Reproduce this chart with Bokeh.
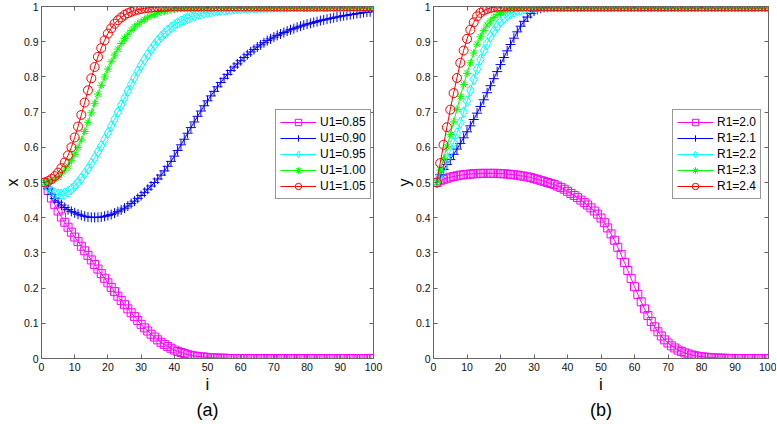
from bokeh.plotting import figure
from bokeh.models import Range1d, FixedTicker, LinearAxis, Legend, LegendItem, Title
from bokeh.layouts import row
from bokeh.embed import file_html
from bokeh.resources import INLINE

# ---------------- data ----------------
I = list(range(1, 101))
X_TICKS = [0, 10, 20, 30, 40, 50, 60, 70, 80, 90, 100]
Y_TICKS = [0, 0.1, 0.2, 0.3, 0.4, 0.5, 0.6, 0.7, 0.8, 0.9, 1]
Y_TICK_LABELS = ["0", "0.1", "0.2", "0.3", "0.4", "0.5", "0.6", "0.7", "0.8", "0.9", "1"]

LABELS_A = ["U1=0.85", "U1=0.90", "U1=0.95", "U1=1.00", "U1=1.05"]
LABELS_B = ["R1=2.0", "R1=2.1", "R1=2.2", "R1=2.3", "R1=2.4"]

A_U085 = [
    0.500, 0.477, 0.456, 0.437, 0.419, 0.402, 0.387, 0.373, 0.359, 0.345,
    0.332, 0.319, 0.306, 0.293, 0.280, 0.267, 0.254, 0.241, 0.228, 0.215,
    0.202, 0.190, 0.177, 0.165, 0.153, 0.141, 0.130, 0.119, 0.108, 0.097,
    0.087, 0.078, 0.069, 0.061, 0.053, 0.046, 0.040, 0.034, 0.029, 0.024,
    0.020, 0.017, 0.014, 0.011, 0.009, 0.007, 0.006, 0.005, 0.004, 0.003,
    0.002, 0.002, 0.001, 0.001, 0.001, 0.000, 0.000, 0.000, 0.000, 0.000,
    0.000, 0.000, 0.000, 0.000, 0.000, 0.000, 0.000, 0.000, 0.000, 0.000,
    0.000, 0.000, 0.000, 0.000, 0.000, 0.000, 0.000, 0.000, 0.000, 0.000,
    0.000, 0.000, 0.000, 0.000, 0.000, 0.000, 0.000, 0.000, 0.000, 0.000,
    0.000, 0.000, 0.000, 0.000, 0.000, 0.000, 0.000, 0.000, 0.000, 0.000,
]
A_U090 = [
    0.500, 0.482, 0.466, 0.454, 0.444, 0.436, 0.429, 0.423, 0.418, 0.414,
    0.410, 0.407, 0.404, 0.402, 0.401, 0.401, 0.401, 0.402, 0.404, 0.406,
    0.409, 0.413, 0.417, 0.422, 0.427, 0.433, 0.440, 0.447, 0.455, 0.463,
    0.472, 0.481, 0.490, 0.500, 0.510, 0.521, 0.533, 0.546, 0.560, 0.575,
    0.591, 0.607, 0.623, 0.640, 0.656, 0.672, 0.688, 0.703, 0.718, 0.732,
    0.746, 0.759, 0.772, 0.784, 0.796, 0.807, 0.818, 0.828, 0.837, 0.846,
    0.855, 0.863, 0.871, 0.878, 0.885, 0.891, 0.897, 0.903, 0.908, 0.913,
    0.918, 0.922, 0.926, 0.930, 0.934, 0.937, 0.941, 0.944, 0.947, 0.950,
    0.952, 0.955, 0.957, 0.960, 0.962, 0.964, 0.966, 0.968, 0.970, 0.972,
    0.974, 0.975, 0.977, 0.978, 0.980, 0.981, 0.983, 0.984, 0.985, 0.987,
]
A_U095 = [
    0.500, 0.485, 0.475, 0.469, 0.466, 0.466, 0.469, 0.474, 0.481, 0.490,
    0.500, 0.512, 0.525, 0.539, 0.554, 0.570, 0.587, 0.604, 0.622, 0.641,
    0.660, 0.680, 0.700, 0.720, 0.740, 0.760, 0.779, 0.798, 0.816, 0.833,
    0.849, 0.864, 0.878, 0.891, 0.903, 0.914, 0.923, 0.932, 0.940, 0.947,
    0.953, 0.958, 0.963, 0.967, 0.971, 0.974, 0.977, 0.980, 0.982, 0.984,
    0.986, 0.988, 0.989, 0.990, 0.991, 0.992, 0.993, 0.994, 0.995, 0.995,
    0.996, 0.996, 0.997, 0.997, 0.997, 0.998, 0.998, 0.998, 0.999, 0.999,
    0.999, 0.999, 0.999, 0.999, 1.000, 1.000, 1.000, 1.000, 1.000, 1.000,
    1.000, 1.000, 1.000, 1.000, 1.000, 1.000, 1.000, 1.000, 1.000, 1.000,
    1.000, 1.000, 1.000, 1.000, 1.000, 1.000, 1.000, 1.000, 1.000, 1.000,
]
A_U100 = [
    0.500, 0.501, 0.504, 0.509, 0.515, 0.525, 0.535, 0.547, 0.562, 0.580,
    0.600, 0.621, 0.645, 0.671, 0.698, 0.725, 0.751, 0.776, 0.800, 0.822,
    0.843, 0.862, 0.879, 0.895, 0.909, 0.921, 0.932, 0.942, 0.950, 0.957,
    0.963, 0.969, 0.974, 0.978, 0.982, 0.985, 0.987, 0.989, 0.991, 0.993,
    0.994, 0.995, 0.996, 0.997, 0.997, 0.998, 0.998, 0.999, 0.999, 0.999,
    1.000, 1.000, 1.000, 1.000, 1.000, 1.000, 1.000, 1.000, 1.000, 1.000,
    1.000, 1.000, 1.000, 1.000, 1.000, 1.000, 1.000, 1.000, 1.000, 1.000,
    1.000, 1.000, 1.000, 1.000, 1.000, 1.000, 1.000, 1.000, 1.000, 1.000,
    1.000, 1.000, 1.000, 1.000, 1.000, 1.000, 1.000, 1.000, 1.000, 1.000,
    1.000, 1.000, 1.000, 1.000, 1.000, 1.000, 1.000, 1.000, 1.000, 1.000,
]
A_U105 = [
    0.500, 0.504, 0.510, 0.518, 0.528, 0.541, 0.557, 0.577, 0.600, 0.628,
    0.659, 0.692, 0.727, 0.762, 0.796, 0.828, 0.857, 0.882, 0.904, 0.923,
    0.938, 0.951, 0.961, 0.969, 0.976, 0.981, 0.985, 0.988, 0.991, 0.993,
    0.995, 0.996, 0.997, 0.998, 0.998, 0.999, 0.999, 1.000, 1.000, 1.000,
    1.000, 1.000, 1.000, 1.000, 1.000, 1.000, 1.000, 1.000, 1.000, 1.000,
    1.000, 1.000, 1.000, 1.000, 1.000, 1.000, 1.000, 1.000, 1.000, 1.000,
    1.000, 1.000, 1.000, 1.000, 1.000, 1.000, 1.000, 1.000, 1.000, 1.000,
    1.000, 1.000, 1.000, 1.000, 1.000, 1.000, 1.000, 1.000, 1.000, 1.000,
    1.000, 1.000, 1.000, 1.000, 1.000, 1.000, 1.000, 1.000, 1.000, 1.000,
    1.000, 1.000, 1.000, 1.000, 1.000, 1.000, 1.000, 1.000, 1.000, 1.000,
]

B_R20 = [
    0.500, 0.505, 0.509, 0.512, 0.515, 0.517, 0.519, 0.521, 0.522, 0.523,
    0.524, 0.525, 0.525, 0.526, 0.526, 0.526, 0.526, 0.526, 0.526, 0.525,
    0.525, 0.524, 0.523, 0.522, 0.521, 0.519, 0.518, 0.516, 0.514, 0.511,
    0.509, 0.506, 0.503, 0.500, 0.497, 0.494, 0.490, 0.486, 0.481, 0.475,
    0.469, 0.463, 0.457, 0.450, 0.443, 0.436, 0.428, 0.419, 0.410, 0.399,
    0.386, 0.371, 0.354, 0.336, 0.316, 0.295, 0.273, 0.250, 0.227, 0.204,
    0.182, 0.161, 0.141, 0.122, 0.105, 0.090, 0.076, 0.064, 0.053, 0.044,
    0.036, 0.030, 0.024, 0.020, 0.016, 0.013, 0.010, 0.008, 0.006, 0.005,
    0.004, 0.003, 0.002, 0.002, 0.001, 0.001, 0.001, 0.000, 0.000, 0.000,
    0.000, 0.000, 0.000, 0.000, 0.000, 0.000, 0.000, 0.000, 0.000, 0.000,
]
B_R21 = [
    0.500, 0.522, 0.537, 0.551, 0.565, 0.580, 0.595, 0.611, 0.627, 0.644,
    0.661, 0.679, 0.697, 0.716, 0.735, 0.755, 0.775, 0.795, 0.815, 0.835,
    0.855, 0.874, 0.892, 0.910, 0.928, 0.944, 0.958, 0.970, 0.980, 0.987,
    0.992, 0.995, 0.997, 0.998, 0.999, 1.000, 1.000, 1.000, 1.000, 1.000,
    1.000, 1.000, 1.000, 1.000, 1.000, 1.000, 1.000, 1.000, 1.000, 1.000,
    1.000, 1.000, 1.000, 1.000, 1.000, 1.000, 1.000, 1.000, 1.000, 1.000,
    1.000, 1.000, 1.000, 1.000, 1.000, 1.000, 1.000, 1.000, 1.000, 1.000,
    1.000, 1.000, 1.000, 1.000, 1.000, 1.000, 1.000, 1.000, 1.000, 1.000,
    1.000, 1.000, 1.000, 1.000, 1.000, 1.000, 1.000, 1.000, 1.000, 1.000,
    1.000, 1.000, 1.000, 1.000, 1.000, 1.000, 1.000, 1.000, 1.000, 1.000,
]
B_R22 = [
    0.500, 0.523, 0.545, 0.567, 0.589, 0.613, 0.640, 0.670, 0.700, 0.731,
    0.762, 0.793, 0.822, 0.849, 0.874, 0.895, 0.914, 0.930, 0.944, 0.956,
    0.966, 0.974, 0.980, 0.985, 0.989, 0.992, 0.994, 0.996, 0.997, 0.998,
    0.999, 1.000, 1.000, 1.000, 1.000, 1.000, 1.000, 1.000, 1.000, 1.000,
    1.000, 1.000, 1.000, 1.000, 1.000, 1.000, 1.000, 1.000, 1.000, 1.000,
    1.000, 1.000, 1.000, 1.000, 1.000, 1.000, 1.000, 1.000, 1.000, 1.000,
    1.000, 1.000, 1.000, 1.000, 1.000, 1.000, 1.000, 1.000, 1.000, 1.000,
    1.000, 1.000, 1.000, 1.000, 1.000, 1.000, 1.000, 1.000, 1.000, 1.000,
    1.000, 1.000, 1.000, 1.000, 1.000, 1.000, 1.000, 1.000, 1.000, 1.000,
    1.000, 1.000, 1.000, 1.000, 1.000, 1.000, 1.000, 1.000, 1.000, 1.000,
]
B_R23 = [
    0.500, 0.535, 0.568, 0.601, 0.636, 0.672, 0.708, 0.744, 0.778, 0.810,
    0.840, 0.868, 0.893, 0.914, 0.932, 0.947, 0.959, 0.969, 0.977, 0.983,
    0.988, 0.991, 0.994, 0.996, 0.997, 0.998, 0.999, 1.000, 1.000, 1.000,
    1.000, 1.000, 1.000, 1.000, 1.000, 1.000, 1.000, 1.000, 1.000, 1.000,
    1.000, 1.000, 1.000, 1.000, 1.000, 1.000, 1.000, 1.000, 1.000, 1.000,
    1.000, 1.000, 1.000, 1.000, 1.000, 1.000, 1.000, 1.000, 1.000, 1.000,
    1.000, 1.000, 1.000, 1.000, 1.000, 1.000, 1.000, 1.000, 1.000, 1.000,
    1.000, 1.000, 1.000, 1.000, 1.000, 1.000, 1.000, 1.000, 1.000, 1.000,
    1.000, 1.000, 1.000, 1.000, 1.000, 1.000, 1.000, 1.000, 1.000, 1.000,
    1.000, 1.000, 1.000, 1.000, 1.000, 1.000, 1.000, 1.000, 1.000, 1.000,
]
B_R24 = [
    0.500, 0.555, 0.607, 0.657, 0.707, 0.754, 0.797, 0.840, 0.875, 0.908,
    0.934, 0.955, 0.972, 0.982, 0.989, 0.993, 0.996, 0.998, 0.999, 1.000,
    1.000, 1.000, 1.000, 1.000, 1.000, 1.000, 1.000, 1.000, 1.000, 1.000,
    1.000, 1.000, 1.000, 1.000, 1.000, 1.000, 1.000, 1.000, 1.000, 1.000,
    1.000, 1.000, 1.000, 1.000, 1.000, 1.000, 1.000, 1.000, 1.000, 1.000,
    1.000, 1.000, 1.000, 1.000, 1.000, 1.000, 1.000, 1.000, 1.000, 1.000,
    1.000, 1.000, 1.000, 1.000, 1.000, 1.000, 1.000, 1.000, 1.000, 1.000,
    1.000, 1.000, 1.000, 1.000, 1.000, 1.000, 1.000, 1.000, 1.000, 1.000,
    1.000, 1.000, 1.000, 1.000, 1.000, 1.000, 1.000, 1.000, 1.000, 1.000,
    1.000, 1.000, 1.000, 1.000, 1.000, 1.000, 1.000, 1.000, 1.000, 1.000,
]

SERIES_A = [A_U085, A_U090, A_U095, A_U100, A_U105]
SERIES_B = [B_R20, B_R21, B_R22, B_R23, B_R24]

# ---------------- style ----------------
COLORS = ["#FF00FF", "#0000FF", "#00FFFF", "#00FF00", "#FF0000"]
MARKERS = ["square", "cross", "diamond", "asterisk", "circle"]
SIZES = [8, 10, 11, 8, 9]
FONT = "Liberation Sans"
AXIS_COLOR = "#666666"
FIG_H = 420


def style_axis(ax, show_labels=True):
    ax.major_tick_in = 4
    ax.major_tick_out = 0
    ax.minor_tick_line_color = None
    ax.axis_line_color = AXIS_COLOR
    ax.major_tick_line_color = AXIS_COLOR
    ax.major_label_text_font = FONT
    if show_labels:
        ax.major_label_text_color = "#111111"
        ax.major_label_text_font_size = "10.5px"
        ax.major_label_standoff = 3
    else:
        ax.major_label_text_color = None
        ax.major_label_text_font_size = "1px"
        ax.major_label_standoff = 0
    ax.axis_label_text_font = FONT
    ax.axis_label_text_font_size = "16px"
    ax.axis_label_text_font_style = "normal"
    ax.axis_label_text_color = "#000000"
    ax.axis_label_standoff = 0


def panel(series, labels, ylabel, caption, width, bl, br, leg_xy, glyph_w):
    p = figure(width=width, height=FIG_H, output_backend="svg", toolbar_location=None,
               x_range=Range1d(0, 100), y_range=Range1d(0, 1),
               min_border_left=bl, min_border_right=br,
               min_border_top=6, min_border_bottom=0)
    p.background_fill_color = "white"
    p.border_fill_color = "white"
    p.outline_line_color = AXIS_COLOR
    p.xgrid.visible = False
    p.ygrid.visible = False

    p.xaxis.ticker = FixedTicker(ticks=X_TICKS)
    p.yaxis.ticker = FixedTicker(ticks=Y_TICKS)
    p.yaxis.major_label_overrides = dict(zip(Y_TICKS, Y_TICK_LABELS))
    p.xaxis.axis_label = "i"
    p.yaxis.axis_label = ylabel
    style_axis(p.xaxis[0])
    style_axis(p.yaxis[0])
    p.xaxis[0].major_label_standoff = 4
    p.xaxis[0].axis_label_text_font_size = "17px"
    p.xaxis[0].axis_label_standoff = 1

    top = LinearAxis(ticker=FixedTicker(ticks=X_TICKS))
    right = LinearAxis(ticker=FixedTicker(ticks=Y_TICKS))
    style_axis(top, show_labels=False)
    style_axis(right, show_labels=False)
    p.add_layout(top, "above")
    p.add_layout(right, "right")

    items = []
    for vals, lab, c, m, s in zip(series, labels, COLORS, MARKERS, SIZES):
        ln = p.line(I, vals, line_color=c, line_width=1)
        sc = p.scatter(I, vals, marker=m, size=s, line_color=c,
                       fill_color=None, line_width=1)
        items.append(LegendItem(label=lab, renderers=[ln, sc]))

    leg = Legend(items=items, location=leg_xy)
    leg.label_text_font = FONT
    leg.label_text_font_size = "12px"
    leg.label_text_color = "#000000"
    leg.glyph_width = glyph_w
    leg.glyph_height = 16
    leg.label_height = 16
    leg.label_standoff = 4
    leg.padding = 4
    leg.spacing = 0
    leg.margin = 0
    leg.border_line_color = "#333333"
    leg.border_line_width = 1
    leg.background_fill_color = "white"
    leg.background_fill_alpha = 1
    p.add_layout(leg, "center")

    p.add_layout(Title(text=caption, align="center", text_font=FONT,
                       text_font_size="18px", text_font_style="normal",
                       text_color="#000000", standoff=2), "below")
    return p


pa = panel(SERIES_A, LABELS_A, "x", "(a)", 390, 38, 17, (234, 159), 36)
pb = panel(SERIES_B, LABELS_B, "y", "(b)", 386, 43, 8, (239, 159), 36)

layout = row(pa, pb)
open("out.html", "w").write(file_html(layout, INLINE))
